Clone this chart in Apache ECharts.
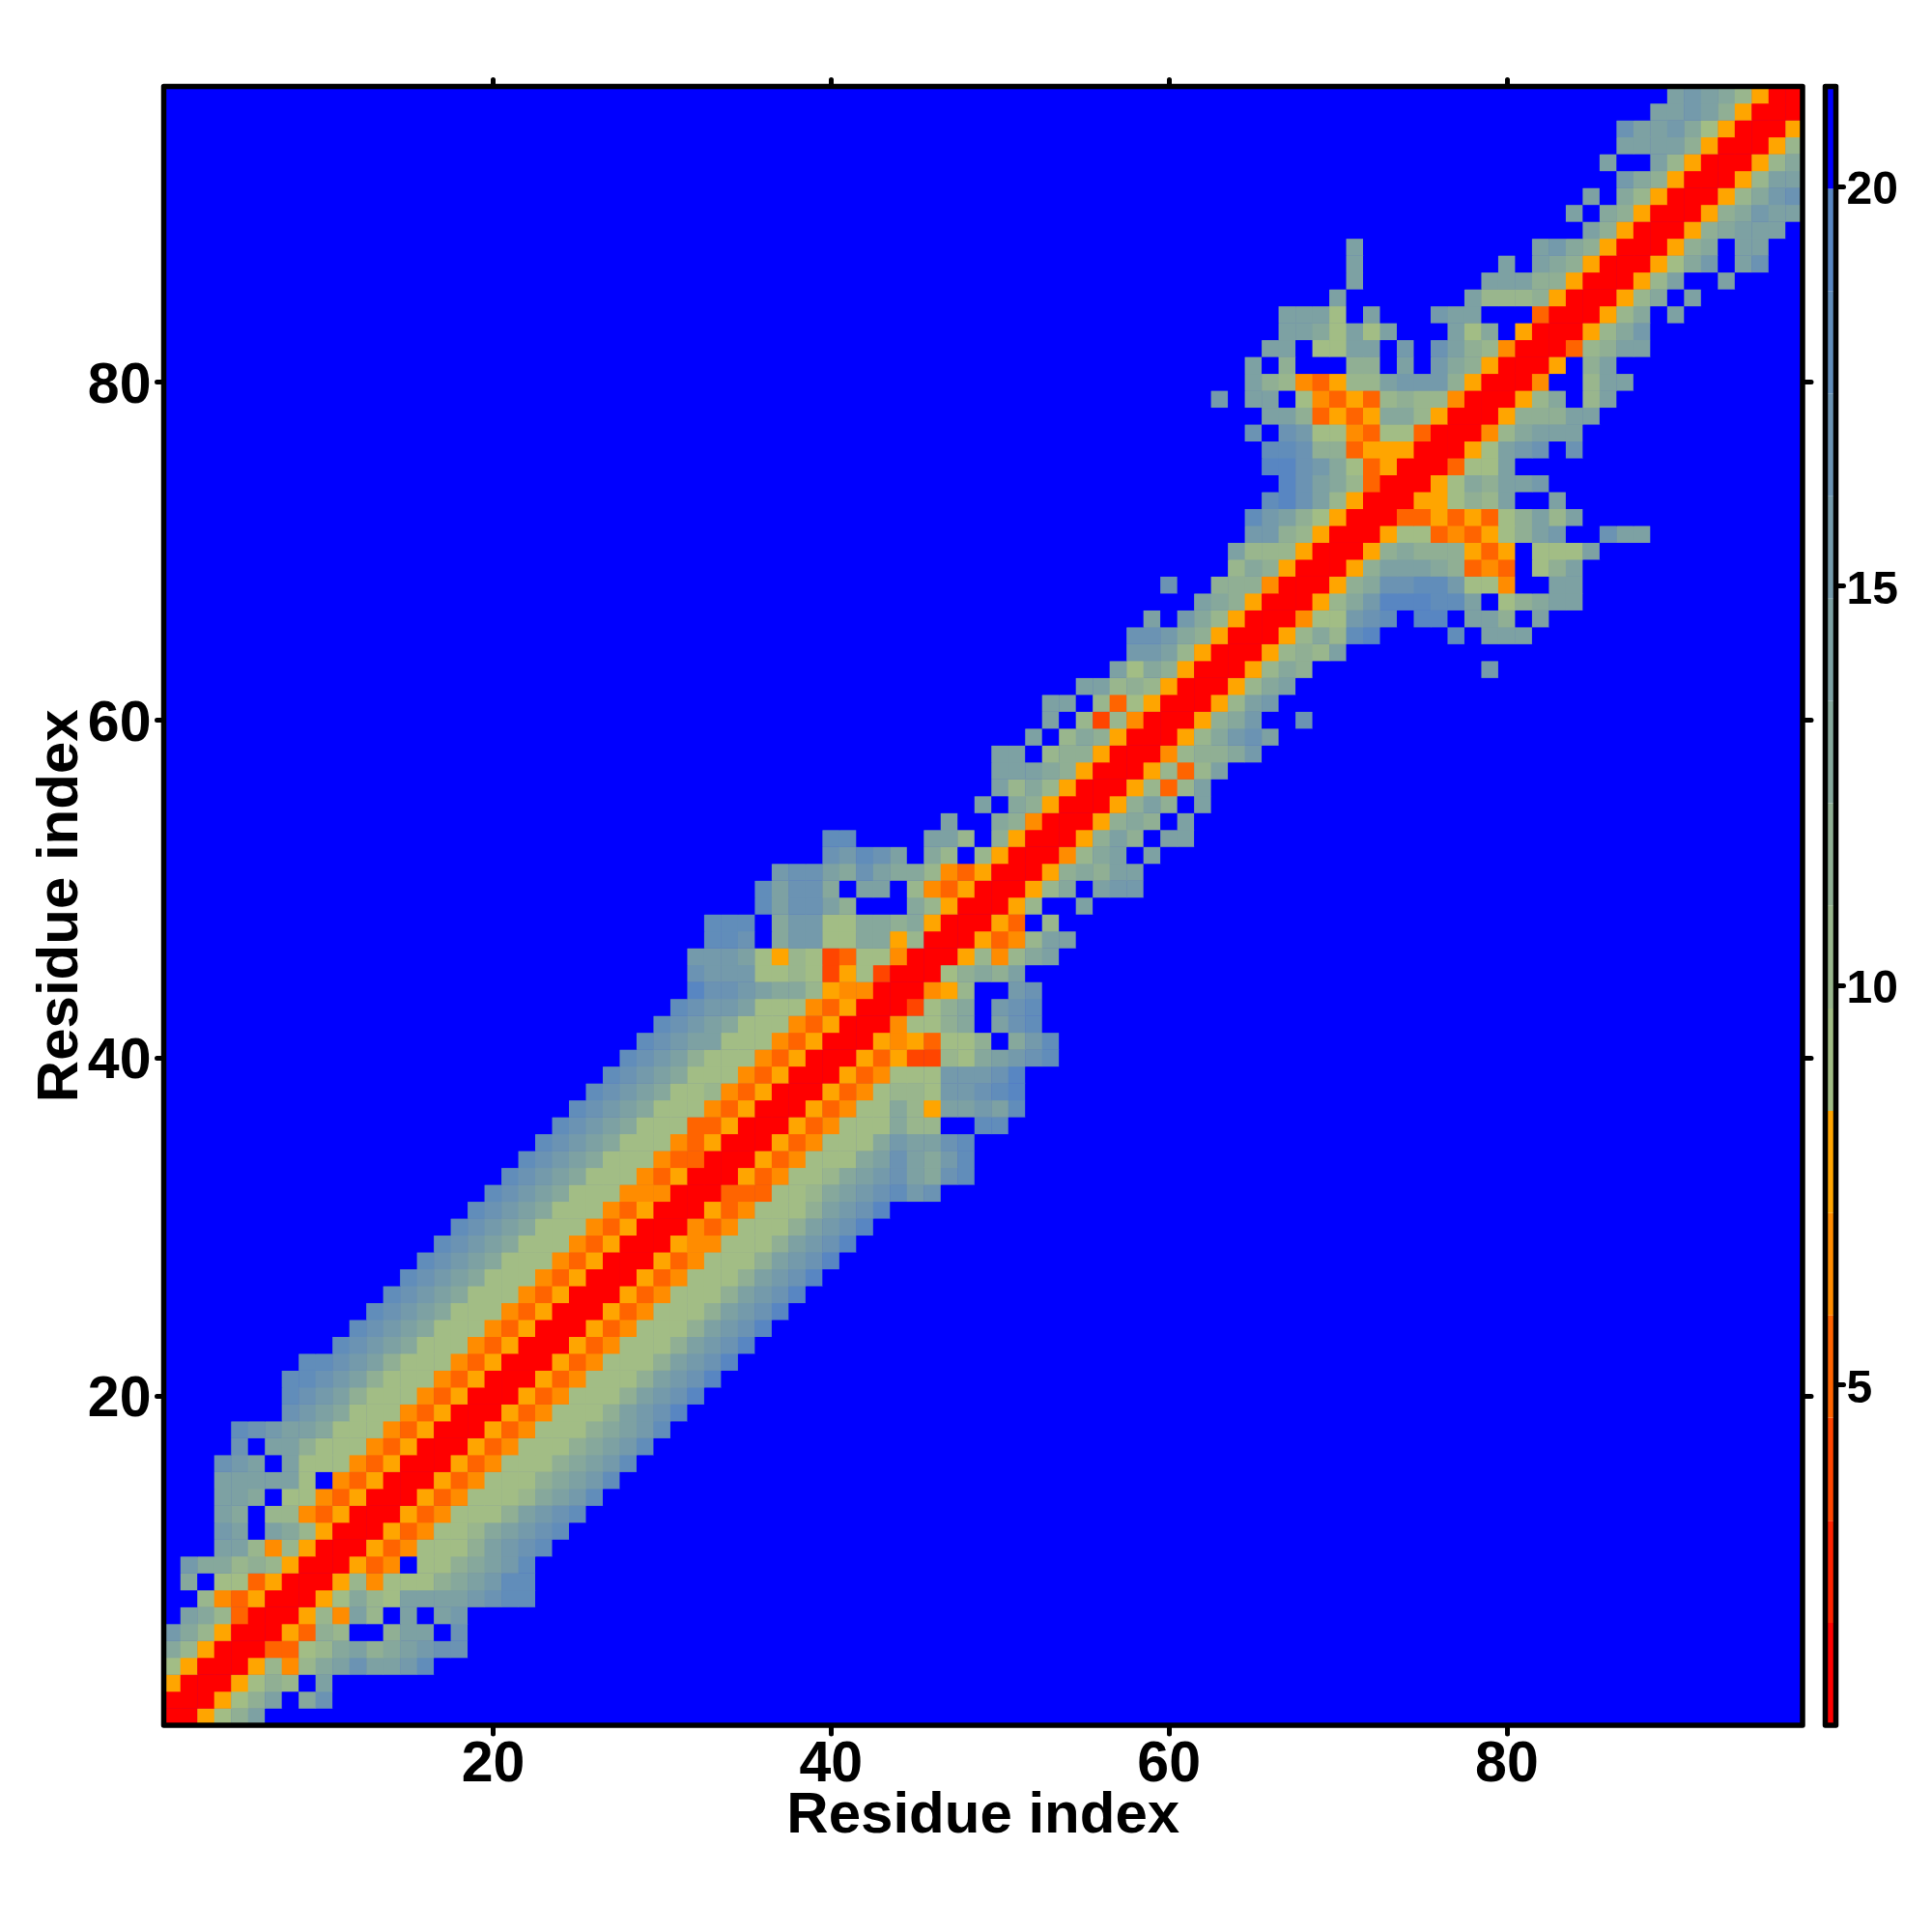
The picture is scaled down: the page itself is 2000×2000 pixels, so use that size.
<!DOCTYPE html>
<html>
<head>
<meta charset="utf-8">
<style>html,body{margin:0;padding:0;background:#fff}#chart{width:2000px;height:2000px}</style>
<script src="https://cdn.jsdelivr.net/npm/echarts@6/dist/echarts.min.js"></script>
</head>
<body>
<div id="chart"></div>
<script>
const residueCount = 97;
const axisTickValues = [20, 40, 60, 80];
const colorbarTicks = [5, 10, 15, 20];
const axisTitle = 'Residue index';

// one letter per colour level, low to high; '.' is the top (blue) level
const levelChars = ['R', 'r', 'D', 'O', 'M', 'Y', 'a', 'b', 'c', 'd', 'e', 'f', 'g', 'h', 'i', '.'];
const levelColors = ['#ff0000', '#ff2200', '#ff4500', '#ff6400', '#ff8c00', '#ffa500',
  '#a2bd85', '#99b68d', '#90af94', '#86a89c', '#7da1a3', '#749aab', '#6b93b3', '#618dba', '#5886c2', '#0000ff'];
const levelBreaks = [0.74, 2.02, 3.30, 4.59, 5.87, 7.15, 8.43, 9.71, 11.0, 12.28, 13.56, 14.84, 16.12, 17.41, 18.69, 19.97, 21.25];

// columns skipped (all blue) before the first listed cell of each row, row 1 first
const rowOffsets = [0,0,0,0,0,0,1,2,1,1,3,3,3,3,3,3,4,4,7,7,7,8,10,11,12,13,14,15,16,17,18,19,20,21,22,23,24,25,26,27,28,29,30,31,31,31,32,32,35,35,36,39,39,46,48,49,49,49,51,52,52,54,56,57,57,58,61,59,63,63,64,64,65,66,65,65,64,65,62,64,64,65,66,66,69,70,70,70,84,83,84,86,85,86,86,88,89];
// cell levels of each row read from left to right, the rest of the row is blue
const rowCells = [
"RRYace","RRRYace.dg","YRRRYacb.e","aYRRRYbMbdegeefh","dbYRRROOabdecdefgg","fdbYRRRYOcb..cee.g",
"edbORRRYbMeb.e.ef","bMOYRRRYadbaeeeefghh","d.aaOYRRRYbMaaacdefhh","fddbcbYRRRYOM.aacdefh",
"eebMbYRRRYOMaaacefgh","fe.edbYRRRYOMaabdefgh","ed.bbMOYRRRYOMaaacefgh","eed.aaMOYRRRYOMaaabdefh",
"eeeeea.MOYRRRYOMaaacdefh","gfe.eaaaMOYRRRYOMaaacdefh","g.eecaaaMOYRRRYOMaaacdefh","hgfeedaaaMOYRRRYOMaaacdefh",
"gfedaaaMOYRRRYOMaaacefgi","hgfecaaaMOYRRRYOMaaacefgi","hhgfecaaaMOYRRRYOMaaacefgi","hhgfecaaaMOYRRRYOMaaacefgi",
"hgfedaaaMOYRRRYOMaaacefgi","hgfedaaaMOYRRRYOMaaacefgi","hgfedaaaMOYRRRYOMaaacefgi","hgfedaaaMOYRRRYOMaaacefgi",
"hgfedaaaMOYRRRYOMaaacefgi","hgfedaaaMOYRRRYOMaaacefgi","hgfedaaaMOYRRRYMMaaacefgi","hgfedaaaMOYRRRMOMaaacefgi",
"hgfedaaaMOYRRRYOMaaacefgi","hgfedaaaMMMRRROOOaabdefghfg","hgfedaaaMOYRRRYOMaabdefgedgh","hgfedaaaMOORRRYOMaaadegedfh",
"hgfedaaaMOYRRRYOMaaadfeegh","hgfedaaaOOYRRRYOMaaadbb..hh","hgfedaaaMOYRRRYOMaadbYeefeh","hgfedaabMOYRRRYOMabbaffghi",
"hgfedaaaMOYRRRYOMaaafffgi","hgfecaaaMOYRRRYOYDDbadefgh","hgfeeaaaMOYRRRYMYOaac.dfh","hgfedaaaMOYRRRMaacd.egh",
"hgffeaaaMOYRRRDacd.fgh","iggfeddbYMMRRRMYb..fg","gfffaabaDYaDRRRacdce","fffeaYbaDOaaMRRRYbMbde",
"hhg.dffaaddYbRRRYOMbee","hhh.dffaaddcdYRRRYO.b","heggec...dbYRRRYb..e","heggd.ee.bMOYRRRYbd.eff",
"fggedgeddbMOYRRRYcdcee","gfhge.db.bYRRRMbde.e","hh....eeb.cYRRRYcec.ee","e..dcMRRRYcdc.e",
"e.dcYRRRYcec.e","ebdbYRRRYbObe","eeedcYRRRYbObe","ee.bccYRRRMbccdf","e.bdcYRRRYbdfge","e.bDbMRRRYcdf..g",
"ee.bOaYRRRYbef","eebcbYRRRYbde","eadcYRRRYbdc..........f","ffebYRRRYbcbe","ggfdcYRRRYbdbhi....h.eee","e.fdbYRRRMaafgh.ii.eec.e",
"edcYRRRYbdfiiihhe.acdee","g..cccMRRRYcdgghhfaaM..ee","bdcYRRRYceeedcOMO.ace","ebbbYRRRYcdcccYOY.aaae",
"ffcbYRRRYaaOMOYacef..gee","hfecaYRRROOYOYOacebe","higebYRRRYYacbe..e","igedbORRRYadceef","iigfdaOYRRROaae",
"hhgccOYYYRRRYaefg.g","g.gfaaMOaaORRRMbdeee","eecOYOYddbYRRRYcccee","f.ee.aMOYObcbbMRRRYbd.be","ecbMOYbbefffcYRRRM..bee",
"e.c...cc.e.fdcYRRRY.ce","ee.aaee.f.gecbMRRRObcee","eedaeae...ead.YRRRYbdf","eeea.e...fee...ORRRYbd.e",
"e.......ebbbcYRRRYbd.e","e.......eeeccYRRRYbe..e","e........e.edcYRRRYadf.eg","e..........efdcYRRRYcd.ee","ecYRRRYcdeee","e.dcYRRRYcdfee",
"e.dbYRRRYbdfg","fdcYRRRYbee","e..ebYRRRYbd","eeeecYRRRYb","geefdaYRRRY","eefecYRRR","efedbYRR"
];

const residues = Array.from({length: residueCount}, (_, i) => String(i + 1));
const blue = levelChars.length - 1;
const levelValue = k => (levelBreaks[k] + levelBreaks[k + 1]) / 2;
const heatData = [];
for (let r = 0; r < residueCount; r++) {
  for (let c = 0; c < residueCount; c++) {
    const ch = rowCells[r][c - rowOffsets[r]];
    const k = ch === undefined ? blue : levelChars.indexOf(ch);
    heatData.push([c, r, levelValue(k)]);
  }
}

const font = 'Liberation Sans';
const isTick = (i, v) => axisTickValues.includes(Number(v));
const tickLine = {color: '#000', width: 5, cap: 'round'};
const mainAxis = (position, length, label) => ({
  type: 'category', gridIndex: 0, position, data: residues,
  axisLine: {show: false},
  axisTick: {show: true, alignWithLabel: true, interval: isTick, length, lineStyle: tickLine},
  axisLabel: label ? Object.assign({show: true, interval: isTick, color: '#000', fontFamily: font, fontWeight: 'bold', fontSize: 59}, label) : {show: false},
  splitLine: {show: false}
});
const titleStyle = {color: '#000', fontFamily: font, fontWeight: 'bold', fontSize: 60};

const colorbarSeries = levelColors.map((color, k) => ({
  type: 'bar', xAxisIndex: 2, yAxisIndex: 2, stack: 'bar', barWidth: '100%', silent: true,
  itemStyle: {color},
  data: [k === 0 ? levelBreaks[1] : levelBreaks[k + 1] - levelBreaks[k]]
}));

const chart = echarts.init(document.getElementById('chart'), null, {renderer: 'canvas'});
chart.setOption({
  animation: false,
  backgroundColor: '#fff',
  tooltip: {show: false},
  grid: [
    {left: 169.5, top: 89.5, width: 1696.5, height: 1696.5, show: true, backgroundColor: '#0000ff', borderWidth: 0},
    {left: 1889.5, top: 89.5, width: 11, height: 1696.5}
  ],
  xAxis: [
    Object.assign(mainAxis('bottom', 9, {margin: 12}), {name: axisTitle, nameLocation: 'middle', nameGap: 64, nameMoveOverlap: false, nameTextStyle: titleStyle}),
    mainAxis('top', 7, null),
    {type: 'category', gridIndex: 1, data: ['bar'], show: false}
  ],
  yAxis: [
    Object.assign(mainAxis('left', 7, {margin: 13, verticalAlign: 'top', lineHeight: 10}), {name: axisTitle, nameLocation: 'middle', nameGap: 76, nameMoveOverlap: false, nameTextStyle: titleStyle}),
    mainAxis('right', 9, null),
    {
      type: 'value', gridIndex: 1, position: 'right', min: levelBreaks[0], max: levelBreaks[levelBreaks.length - 1],
      axisLine: {show: false}, splitLine: {show: false},
      axisTick: {show: true, length: 8, lineStyle: tickLine, customValues: colorbarTicks},
      axisLabel: {show: true, margin: 11, verticalAlign: 'top', lineHeight: 10, color: '#000', fontFamily: font, fontWeight: 'bold', fontSize: 48, customValues: colorbarTicks}
    }
  ],
  visualMap: {
    show: false, type: 'piecewise', seriesIndex: 0, dimension: 2,
    pieces: levelColors.map((color, k) => ({gte: levelBreaks[k], lt: levelBreaks[k + 1], color}))
  },
  series: [
    {type: 'heatmap', xAxisIndex: 0, yAxisIndex: 0, data: heatData, progressive: 0, silent: true, emphasis: {disabled: true}}
  ].concat(colorbarSeries),
  graphic: [
    {type: 'rect', z: 100, silent: true, shape: {x: 169.5, y: 89.5, width: 1696.5, height: 1696.5},
      style: {fill: 'transparent', stroke: '#000', lineWidth: 5.5, lineJoin: 'round'}},
    {type: 'rect', z: 100, silent: true, shape: {x: 1889.5, y: 89.5, width: 11, height: 1696.5},
      style: {fill: 'transparent', stroke: '#000', lineWidth: 5.5, lineJoin: 'round'}}
  ]
});
</script>
</body>
</html>
